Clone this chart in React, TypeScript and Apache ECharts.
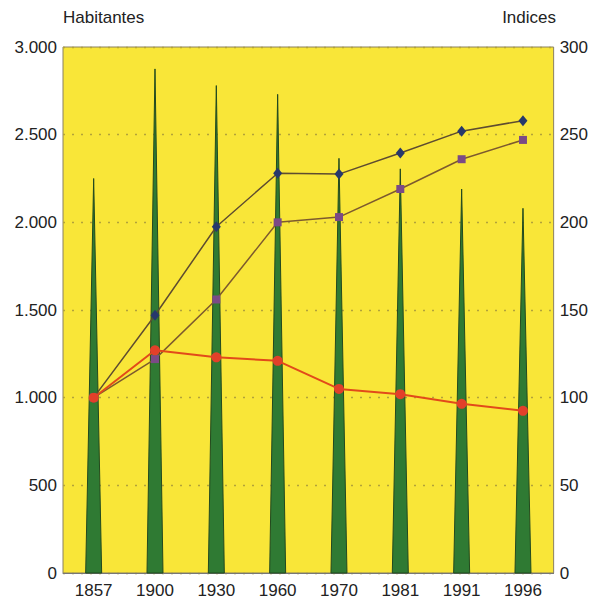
import React, { useEffect, useRef } from "react";
import * as echarts from "echarts";

const years = ["1857", "1900", "1930", "1960", "1970", "1981", "1991", "1996"];
const habitantes = [2250, 2875, 2780, 2730, 2365, 2305, 2190, 2080];
const indexBlue = [100, 147, 197.5, 228, 227.5, 239.5, 252, 258];
const indexPurple = [100, 122, 156, 200, 203, 219, 236, 247];
const indexRed = [100, 127, 123, 121, 105, 102, 96.5, 92.5];
const leftTicks = [0, 500, 1000, 1500, 2000, 2500, 3000];

const fmtThousands = (v: number) => {
  const s = String(Math.round(v));
  return s.replace(/\B(?=(\d{3})+(?!\d))/g, ".");
};

export default function App() {
  const ref = useRef<HTMLDivElement>(null);
  useEffect(() => {
    document.body.style.margin = "0";
    if (!ref.current) return;
    const chart = echarts.init(ref.current, undefined, { renderer: "svg" });
    const font = "Liberation Sans, Arial, Helvetica, sans-serif";
    chart.setOption({
      animation: false,
      textStyle: { fontFamily: font },
      graphic: [
        { type: "text", left: 63, top: 9, style: { text: "Habitantes", fontFamily: font, fontSize: 17, fill: "#222" } },
        { type: "text", right: 35, top: 9, style: { text: "Indices", fontFamily: font, fontSize: 17, fill: "#222" } },
      ],
      grid: {
        left: 63,
        right: 34,
        top: 47,
        bottom: 28,
        show: true,
        backgroundColor: "#f9e638",
        borderColor: "#8a8060",
        borderWidth: 1,
      },
      xAxis: {
        type: "category",
        data: years,
        boundaryGap: true,
        axisLine: { show: true, lineStyle: { color: "#777", width: 1 } },
        axisTick: { show: false },
        axisLabel: { color: "#222", fontSize: 17, margin: 9, fontFamily: font },
        splitLine: { show: false },
      },
      yAxis: [
        {
          type: "value",
          min: leftTicks[0],
          max: leftTicks[leftTicks.length - 1],
          interval: 500,
          axisLine: { show: false },
          axisTick: { show: false },
          axisLabel: { color: "#222", fontSize: 17, margin: 6, fontFamily: font, formatter: (v: number) => fmtThousands(v) },
          splitLine: { show: true, lineStyle: { color: "#b2a23a", type: [2, 7], width: 1.3 } },
        },
        {
          type: "value",
          min: 0,
          max: 300,
          interval: 50,
          position: "right",
          axisLine: { show: false },
          axisTick: { show: false },
          axisLabel: { color: "#222", fontSize: 17, margin: 6, fontFamily: font },
          splitLine: { show: false },
        },
      ],
      series: [
        {
          type: "custom",
          yAxisIndex: 0,
          data: habitantes.map((v, i) => [i, v]),
          renderItem: (params: any, api: any) => {
            const x = api.value(0);
            const v = api.value(1);
            const top = api.coord([x, v]);
            const base = api.coord([x, 0]);
            const hw = 8;
            return {
              type: "polygon",
              shape: {
                points: [
                  [base[0] - hw, base[1]],
                  [base[0] + hw, base[1]],
                  [top[0], top[1]],
                ],
              },
              style: { fill: "#2f7a33", stroke: "#23491f", lineWidth: 1 },
            };
          },
          z: 2,
        },
        {
          type: "line",
          yAxisIndex: 1,
          data: indexBlue,
          symbol: "diamond",
          symbolSize: [9, 11],
          lineStyle: { color: "#5e4c30", width: 1.5 },
          itemStyle: { color: "#27386b" },
          z: 4,
        },
        {
          type: "line",
          yAxisIndex: 1,
          data: indexPurple,
          symbol: "rect",
          symbolSize: 8,
          lineStyle: { color: "#7d5a2e", width: 1.5 },
          itemStyle: { color: "#7b4a86" },
          z: 4,
        },
        {
          type: "line",
          yAxisIndex: 1,
          data: indexRed,
          symbol: "circle",
          symbolSize: 10,
          lineStyle: { color: "#e24a1a", width: 2 },
          itemStyle: { color: "#e2402a" },
          z: 5,
        },
      ],
    });
    return () => chart.dispose();
  }, []);
  return <div ref={ref} style={{ width: 591, height: 601 }} />;
}
